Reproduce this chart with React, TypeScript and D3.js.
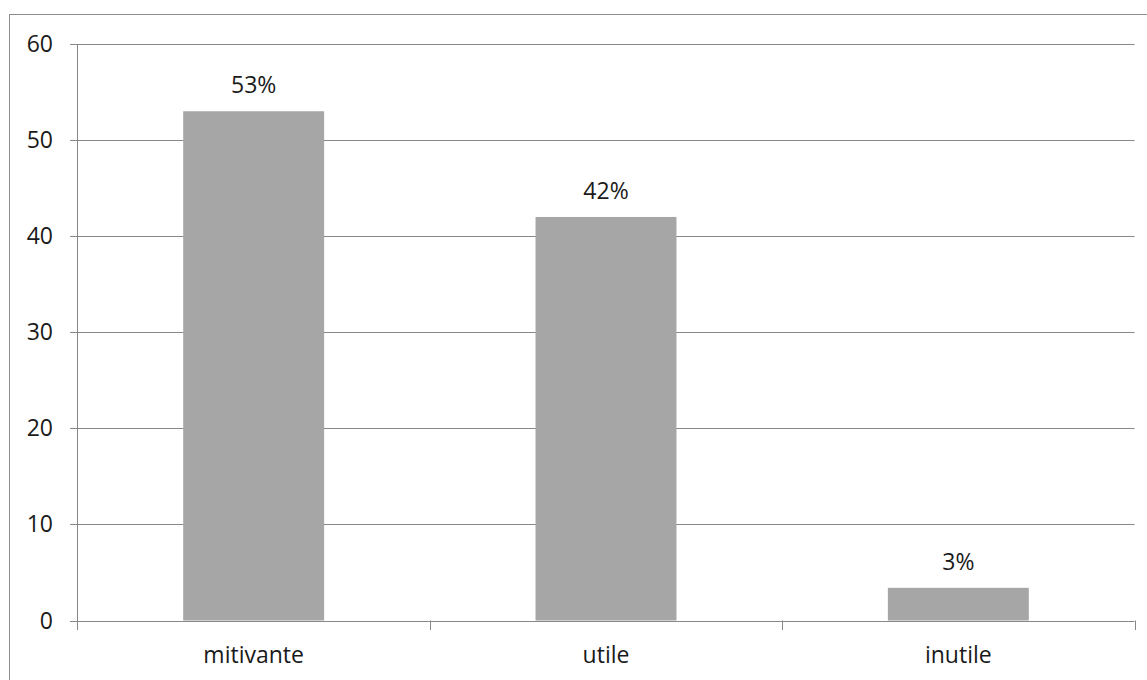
import React from "react";
import * as d3 from "d3";

const categories = ["mitivante", "utile", "inutile"];
const values = [53, 42, 3.4];
const labels = ["53%", "42%", "3%"];
const yTicks = [0, 10, 20, 30, 40, 50, 60];

export default function App() {
  const W = 1147, H = 680;
  const left = 77.5, right = 1134.5, top = 44, bottom = 620.5;
  const x = d3.scaleBand<string>().domain(categories).range([left, right]).paddingInner(0.6).paddingOuter(0.3);
  const xb = d3.scaleBand<string>().domain(categories).range([left, right]);
  const y = d3.scaleLinear().domain([0, 60]).range([bottom, top]);
  const font = "'Open Sans', sans-serif";
  const grid = "#888888";
  const fs = 23;
  return (
    <svg width={W} height={H} style={{ position: "absolute", left: 0, top: 0, background: "#fff" }}>
      <rect x={9.5} y={14.5} width={W + 20} height={H + 20} fill="#fff" stroke="#8c8c8c" strokeWidth={1} />
      {yTicks.map((t) => (
        <g key={t}>
          <line x1={70} x2={right} y1={Math.round(y(t)) + 0.5} y2={Math.round(y(t)) + 0.5} stroke={grid} strokeWidth={1} />
          <text x={53} y={y(t)} dy="0.35em" textAnchor="end" fontFamily={font} fontSize={fs} fill="#1a1a1a">{t}</text>
        </g>
      ))}
      {categories.map((c, i) => (
        <g key={c}>
          <rect x={x(c)} y={y(values[i])} width={x.bandwidth()} height={bottom - y(values[i])} fill="#a6a6a6" />
          <text x={x(c)! + x.bandwidth() / 2} y={y(values[i]) - 18} textAnchor="middle" fontFamily={font} fontSize={fs} fill="#1a1a1a">{labels[i]}</text>
          <text x={xb(c)! + xb.bandwidth() / 2} y={663} textAnchor="middle" fontFamily={font} fontSize={fs} fill="#1a1a1a">{c}</text>
        </g>
      ))}
      <line x1={left} x2={left} y1={top} y2={630} stroke={grid} strokeWidth={1} />
      {categories.map((c) => (
        <line key={c} x1={Math.round(xb(c)! + xb.bandwidth()) + 0.5} x2={Math.round(xb(c)! + xb.bandwidth()) + 0.5} y1={bottom} y2={630} stroke={grid} strokeWidth={1} />
      ))}
    </svg>
  );
}
